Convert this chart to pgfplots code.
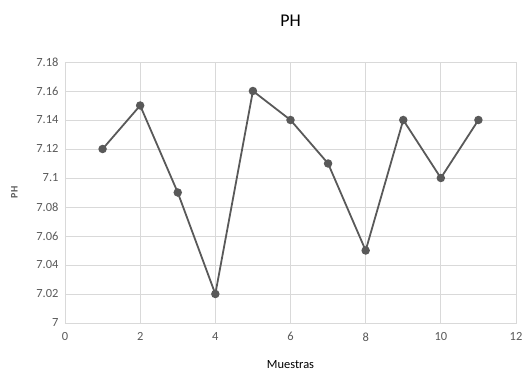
\documentclass[border=0pt]{standalone}
\usepackage{fontspec}
\setmainfont{Carlito}
\usepackage{pgfplots}
\pgfplotsset{compat=1.18}
\definecolor{ln}{HTML}{595959}
\definecolor{gr}{HTML}{D9D9D9}
\definecolor{tx}{HTML}{595959}
\begin{document}
\begin{tikzpicture}
\begin{axis}[
  scale only axis, width=451bp, height=261bp,
  xmin=0, xmax=12, ymin=7, ymax=7.18,
  xtick={0,2,...,12}, ytick={7,7.02,...,7.18},
  yticklabels={7,7.02,7.04,7.06,7.08,7.1,7.12,7.14,7.16,7.18},
  grid=major, major grid style={gr, line width=0.8pt},
  axis line style={gr, line width=0.8pt},
  tick style={draw=none},
  /pgf/number format/assume math mode=true,
  ticklabel style={font=\fontsize{12.5}{14}\selectfont, text=tx},
  title={PH}, title style={font=\fontsize{18}{20}\selectfont, text=black, yshift=26bp},
  xlabel={Muestras}, xlabel style={font=\fontsize{12.5}{14}\selectfont, text=black, yshift=-13bp},
  ylabel={PH}, ylabel style={font=\fontsize{10}{12}\selectfont\bfseries, text=tx, yshift=12bp},
  yticklabel style={xshift=-3bp},
  xticklabel style={yshift=-6bp},
]
\addplot[ln, line width=1.8pt, mark=*, mark size=3.3pt, mark options={fill=ln, draw=ln}] coordinates {
(1,7.12)(2,7.15)(3,7.09)(4,7.02)(5,7.16)(6,7.14)(7,7.11)(8,7.05)(9,7.14)(10,7.10)(11,7.14)};
\end{axis}
\pgfresetboundingbox
\path (-65bp,-60bp) rectangle (460bp,323bp);
\end{tikzpicture}
\end{document}
